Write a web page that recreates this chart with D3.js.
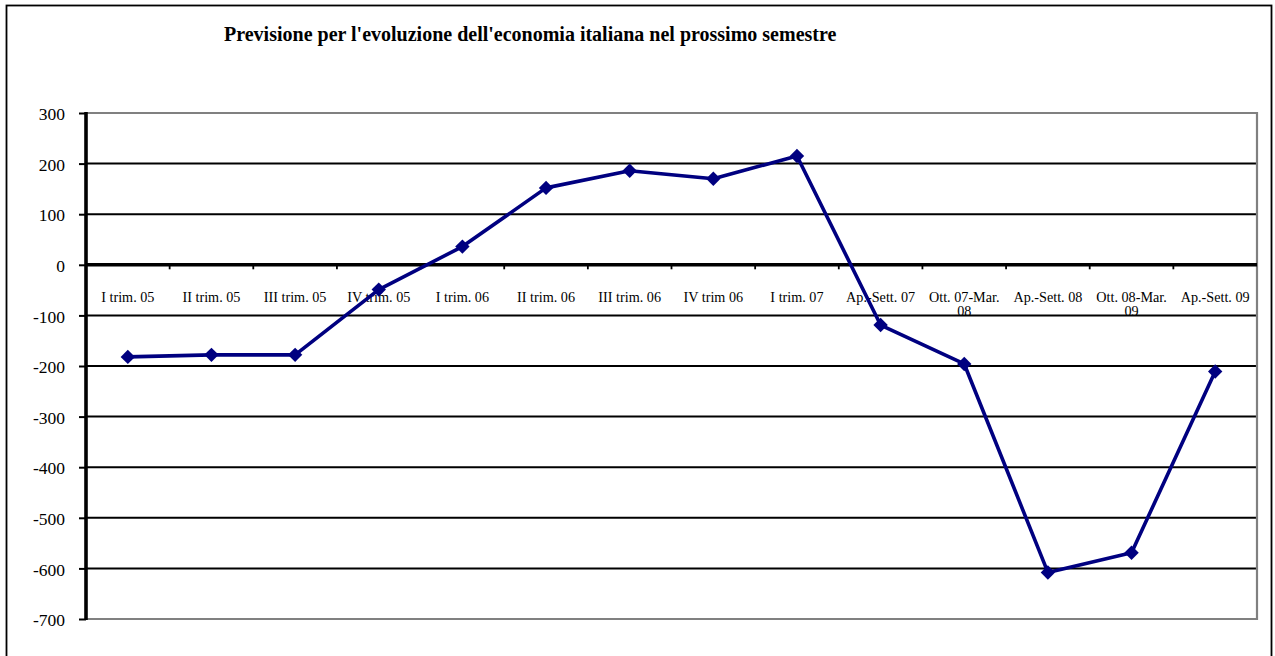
<!DOCTYPE html>
<html>
<head>
<meta charset="utf-8">
<script src="https://cdn.jsdelivr.net/npm/d3@7"></script>
<style>
  html, body { margin: 0; padding: 0; background: #fff; }
  svg { display: block; }
</style>
</head>
<body>
<svg id="chart" width="1275" height="656"></svg>
<script>
// Saldo delle previsioni sull'economia italiana nel semestre successivo
const categories = [
  "I trim. 05", "II trim. 05", "III trim. 05", "IV trim. 05",
  "I trim. 06", "II trim. 06", "III trim. 06", "IV trim 06",
  "I trim. 07", "Ap.-Sett. 07", "Ott. 07-Mar. 08", "Ap.-Sett. 08",
  "Ott. 08-Mar. 09", "Ap.-Sett. 09"
];
const values = [-182, -178, -178, -49, 36, 152, 186, 170, 215, -119, -196, -608, -569, -211];
const yTicks = [300, 200, 100, 0, -100, -200, -300, -400, -500, -600, -700];
const title = "Previsione per l'evoluzione dell'economia italiana nel prossimo semestre";

const serif = "'Liberation Serif', 'Times New Roman', serif";
const svg = d3.select("#chart");
const plot = { left: 86, right: 1257, top: 113, bottom: 619 };

// Outer chart frame
svg.append("rect")
  .attr("x", 6.5).attr("y", 5.5)
  .attr("width", 1265).attr("height", 680)
  .attr("fill", "#fff").attr("stroke", "#000").attr("stroke-width", 1.8);

// Title
svg.append("text")
  .attr("x", 224).attr("y", 41)
  .attr("font-family", serif)
  .attr("font-size", 20).attr("font-weight", "bold")
  .attr("fill", "#000")
  .text(title);

const x = d3.scaleBand().domain(categories).range([plot.left, plot.right]).padding(0);
const y = d3.scaleLinear().domain([-700, 300]).range([plot.bottom, plot.top]);
const cx = c => x(c) + x.bandwidth() / 2;

// Category labels (sit just below the zero line)
const wrapAt = { "Ott. 07-Mar. 08": ["Ott. 07-Mar.", "08"], "Ott. 08-Mar. 09": ["Ott. 08-Mar.", "09"] };
const labels = svg.append("g")
  .attr("font-family", serif)
  .attr("font-size", 14.2).attr("fill", "#000").attr("text-anchor", "middle");
categories.forEach(c => {
  const lines = wrapAt[c] || [c];
  const t = labels.append("text").attr("x", cx(c)).attr("y", y(0) + 37);
  lines.forEach((ln, i) => {
    t.append("tspan").attr("x", cx(c)).attr("dy", i === 0 ? 0 : 14).text(ln);
  });
});

// Horizontal gridlines
svg.append("g")
  .selectAll("line")
  .data(yTicks.filter(v => v !== 300 && v !== -700 && v !== 0))
  .join("line")
  .attr("x1", plot.left).attr("x2", plot.right)
  .attr("y1", d => y(d)).attr("y2", d => y(d))
  .attr("stroke", "#000").attr("stroke-width", 2);

// Plot-area border (grey) on top, right and bottom
svg.append("path")
  .attr("d", `M${plot.left},${y(300)}H${plot.right}V${y(-700)}H${plot.left}`)
  .attr("fill", "none").attr("stroke", "#808080").attr("stroke-width", 2.2);

// Zero line with category separators pointing down
svg.append("g")
  .attr("transform", `translate(0,${y(0)})`)
  .call(d3.axisBottom(x).tickSize(0).tickFormat(""))
  .call(g => g.select(".domain")
    .attr("d", `M${plot.left},0H${plot.right}`)
    .attr("stroke", "#000").attr("stroke-width", 3.4));
svg.append("g")
  .selectAll("line")
  .data(categories.slice(1))
  .join("line")
  .attr("x1", d => x(d)).attr("x2", d => x(d))
  .attr("y1", y(0)).attr("y2", y(0) + 4.5)
  .attr("stroke", "#000").attr("stroke-width", 1.8);

// Value axis
const yAxis = d3.axisLeft(y).tickValues(yTicks).tickSize(7).tickPadding(14).tickFormat(d => String(d));
svg.append("g")
  .attr("transform", `translate(${plot.left},0)`)
  .call(yAxis)
  .call(g => g.select(".domain")
    .attr("d", `M0,${plot.top - 1}V${plot.bottom + 1}`)
    .attr("stroke", "#000").attr("stroke-width", 3.6))
  .call(g => g.selectAll(".tick line").attr("stroke", "#000").attr("stroke-width", 2))
  .call(g => g.selectAll(".tick text")
    .attr("font-family", serif)
    .attr("font-size", 17.5).attr("fill", "#000").attr("dy", "0.38em"));

// Series line
const line = d3.line()
  .x((d, i) => cx(categories[i]))
  .y(d => y(d));
svg.append("path")
  .datum(values)
  .attr("d", line)
  .attr("fill", "none")
  .attr("stroke", "#000080")
  .attr("stroke-width", 3.6)
  .attr("stroke-linejoin", "round");

// Diamond markers
const r = 7.2;
svg.append("g")
  .selectAll("path")
  .data(values)
  .join("path")
  .attr("transform", (d, i) => `translate(${cx(categories[i])},${y(d)})`)
  .attr("d", `M0,${-r}L${r},0L0,${r}L${-r},0Z`)
  .attr("fill", "#000080");
</script>
</body>
</html>
